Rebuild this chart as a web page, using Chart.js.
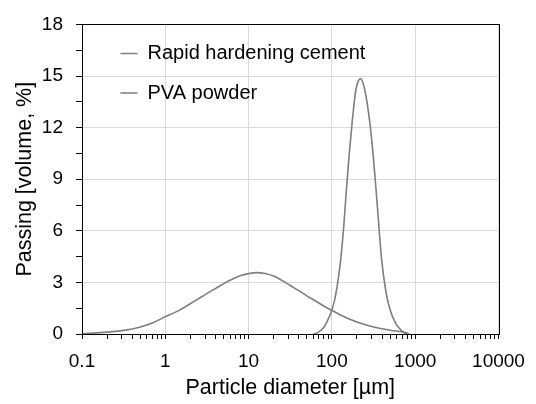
<!DOCTYPE html>
<html>
<head>
<meta charset="utf-8">
<script src="https://cdn.jsdelivr.net/npm/chart.js@4.4.1/dist/chart.umd.min.js"></script>
<style>
  html, body { margin: 0; padding: 0; background: #fff; }
  #wrap { width: 536px; height: 404px; }
</style>
</head>
<body>
<div id="wrap"><canvas id="psdChart" width="536" height="404"></canvas></div>
<script>
// particle size distribution
var cementSize    = [0.1, 0.2, 0.32, 0.5, 0.71, 1, 1.5, 2.4, 3.8, 6, 7.9, 10, 12.6, 15.8, 20, 25, 31.6, 40, 50, 63, 79, 100, 126, 200, 316, 500, 760, 850];
var cementPassing = [0.01, 0.11, 0.21, 0.41, 0.66, 1.0, 1.40, 2.0, 2.58, 3.12, 3.38, 3.51, 3.57, 3.52, 3.37, 3.12, 2.82, 2.52, 2.22, 1.93, 1.64, 1.37, 1.11, 0.70, 0.41, 0.22, 0.08, 0];

var pvaSize    = [60, 66, 79, 88, 100, 108, 114, 120, 128, 139, 148, 161, 175, 194, 221, 248, 285, 313, 342, 366, 394, 444, 496, 585, 685, 790];
var pvaPassing = [0, 0.05, 0.35, 0.75, 1.4, 2.0, 2.6, 3.3, 4.4, 6.3, 8.15, 10.4, 12.3, 14.2, 14.85, 14.2, 12.3, 10.4, 8.15, 6.3, 4.4, 2.5, 1.45, 0.6, 0.2, 0];

var seriesNames = ["Rapid hardening cement", "PVA powder"];

var xDecades = [0.1, 1, 10, 100, 1000, 10000];
var xDecadeLabels = ["0.1", "1", "10", "100", "1000", "10000"];
var yMajorTicks = [0, 3, 6, 9, 12, 15, 18];

function toPoints(xs, ys)
{
    var pts = [];
    xs.forEach(function (valor, indice) {
        pts.push({ x: valor, y: ys[indice] });
    });
    return pts;
}

Chart.defaults.font.family = "'Liberation Sans', Arial, sans-serif";
Chart.defaults.color = '#000';

var lineGray = '#7f7f7f';
var gridGray = '#d9d9d9';

// shift the in-plot legend to where it sits in the figure
var legendShift = {
    id: 'legendShift',
    afterLayout: function (chart) {
        var lg = chart.legend;
        if (!lg) return;
        var dx = 19, dy = 24;
        lg.left += dx; lg.right += dx;
        lg.top += dy; lg.bottom += dy;
    }
};

// closed box round the plot area
var frame = {
    id: 'frame',
    afterDraw: function (chart) {
        var a = chart.chartArea, ctx = chart.ctx;
        ctx.save();
        ctx.strokeStyle = '#000';
        ctx.lineWidth = 1;
        ctx.strokeRect(Math.round(a.left) + 0.5, Math.round(a.top) + 0.5,
                       Math.round(a.right - a.left), Math.round(a.bottom - a.top));
        ctx.restore();
    }
};

var psdChart = new Chart("psdChart", {
    type: 'line',
    data: {
        datasets: [
            {
                label: seriesNames[0],
                data: toPoints(cementSize, cementPassing),
                borderColor: lineGray,
                backgroundColor: lineGray,
                borderWidth: 1.6,
                pointRadius: 0,
                cubicInterpolationMode: 'monotone'
            },
            {
                label: seriesNames[1],
                data: toPoints(pvaSize, pvaPassing),
                borderColor: lineGray,
                backgroundColor: lineGray,
                borderWidth: 1.6,
                pointRadius: 0,
                cubicInterpolationMode: 'monotone'
            }
        ]
    },
    options: {
        responsive: false,
        animation: false,
        layout: { padding: { left: 0, right: 37.5, top: 16, bottom: 0 } },
        plugins: {
            legend: {
                position: 'chartArea',
                align: 'start',
                labels: {
                    usePointStyle: true,
                    pointStyle: 'line',
                    pointStyleWidth: 17,
                    padding: 19.5,
                    color: '#000',
                    font: { size: 20 }
                }
            },
            tooltip: { enabled: false }
        },
        scales: {
            x: {
                type: 'logarithmic',
                min: 0.1,
                max: 10000,
                afterBuildTicks: function (scale) {
                    var ticks = [];
                    xDecades.forEach(function (d, i) {
                        ticks.push({ value: d, major: true });
                        if (i < xDecades.length - 1) {
                            for (var k = 2; k <= 9; k++) ticks.push({ value: d * k, major: false });
                        }
                    });
                    scale.ticks = ticks;
                },
                afterFit: function (scale) { scale.height = 70; },
                grid: {
                    color: function (ctx) { return ctx.tick && ctx.tick.major ? gridGray : 'rgba(0,0,0,0)'; },
                    tickColor: '#000',
                    tickLength: 5,
                    lineWidth: 1
                },
                border: { color: '#000', width: 1 },
                ticks: {
                    autoSkip: false,
                    maxRotation: 0,
                    padding: 11,
                    font: { size: 19 },
                    callback: function (value) {
                        var i = xDecades.indexOf(value);
                        return i >= 0 ? xDecadeLabels[i] : '';
                    }
                },
                title: {
                    display: true,
                    text: 'Particle diameter [\u00b5m]',
                    font: { size: 21.5 },
                    padding: { top: 0, bottom: 3 }
                }
            },
            y: {
                min: 0,
                max: 18,
                afterFit: function (scale) { scale.width = 82; },
                grid: {
                    color: function (ctx) {
                        return ctx.tick && yMajorTicks.indexOf(ctx.tick.value) >= 0 ? gridGray : 'rgba(0,0,0,0)';
                    },
                    tickColor: '#000',
                    tickLength: 6,
                    lineWidth: 1
                },
                border: { color: '#000', width: 1 },
                ticks: {
                    stepSize: 1.5,
                    padding: 13,
                    font: { size: 19 },
                    callback: function (value) {
                        return yMajorTicks.indexOf(value) >= 0 ? String(value) : '';
                    }
                },
                title: {
                    display: true,
                    text: 'Passing [volume, %]',
                    font: { size: 21.5 },
                    padding: { top: 12, bottom: 0 }
                }
            }
        }
    },
    plugins: [legendShift, frame]
});
</script>
</body>
</html>
